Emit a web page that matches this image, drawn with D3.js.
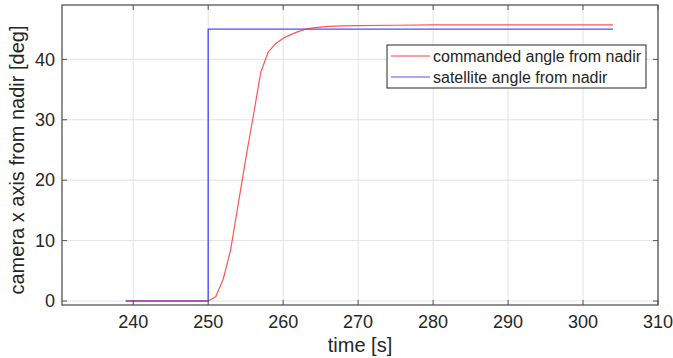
<!DOCTYPE html>
<html>
<head>
<meta charset="utf-8">
<script src="https://cdn.jsdelivr.net/npm/d3@7"></script>
<style>
    body { margin: 0; background: #fff; }
    svg text { font-family: "Liberation Sans", Arial, Helvetica, sans-serif; fill: #262626; }
</style>
</head>
<body>
<div id="chart"></div>
<script>
// data
var cmd_time = [239, 250, 251, 252, 253, 254, 255, 256, 257, 258, 259, 260, 261, 262, 263, 264, 265, 266, 268, 270, 275, 280, 304];
var cmd_angle = [0, 0, 0.7, 3.6, 8.5, 16, 23.5, 30.5, 37.8, 41.2, 42.6, 43.5, 44.1, 44.6, 45.0, 45.2, 45.35, 45.45, 45.55, 45.6, 45.65, 45.7, 45.7];
var sat_time = [239, 250, 250, 304];
var sat_angle = [0, 0, 45, 45];
var x_ticks = [240, 250, 260, 270, 280, 290, 300, 310];
var y_ticks = [0, 10, 20, 30, 40];
var series_names = ["commanded angle from nadir", "satellite angle from nadir"];

// set the dimensions and margins of the graph
var margin = { top: 5, right: 15, bottom: 53, left: 62 },
    width = 673 - margin.left - margin.right,
    height = 358 - margin.top - margin.bottom;

var svg = d3.select("#chart")
    .append("svg")
    .attr("width", 673)
    .attr("height", 358)
    .append("g")
    .attr("transform", "translate(" + margin.left + "," + margin.top + ")");

var x = d3.scaleLinear().domain([230.5, 310]).range([0, width]);
var y = d3.scaleLinear().domain([-0.66, 49]).range([height, 0]);

// grid
svg.selectAll(".gx").data(x_ticks).enter().append("line")
    .attr("x1", function (d) { return x(d); }).attr("x2", function (d) { return x(d); })
    .attr("y1", 0).attr("y2", height)
    .style("stroke", "#e3e3e3").style("stroke-width", 1);
svg.selectAll(".gy").data(y_ticks).enter().append("line")
    .attr("x1", 0).attr("x2", width)
    .attr("y1", function (d) { return y(d); }).attr("y2", function (d) { return y(d); })
    .style("stroke", "#e3e3e3").style("stroke-width", 1);

// lines
var line = d3.line()
    .x(function (d) { return x(d[0]); })
    .y(function (d) { return y(d[1]); });

svg.append("path")
    .datum(d3.zip(sat_time, sat_angle))
    .attr("d", line)
    .style("fill", "none").style("stroke", "#4d4dff").style("stroke-width", 1.4);

svg.append("path")
    .datum(d3.zip(cmd_time, cmd_angle))
    .attr("d", line)
    .style("fill", "none").style("stroke", "#ff2a2a").style("stroke-width", 1.2).style("opacity", 0.8);

// box and ticks (matlab style, ticks inside on every side)
svg.append("rect")
    .attr("x", 0).attr("y", 0).attr("width", width).attr("height", height)
    .style("fill", "none").style("stroke", "#555").style("stroke-width", 1.3);

var tick_len = 5;
x_ticks.forEach(function (t) {
    svg.append("line").attr("x1", x(t)).attr("x2", x(t)).attr("y1", height).attr("y2", height - tick_len)
        .style("stroke", "#555");
    svg.append("line").attr("x1", x(t)).attr("x2", x(t)).attr("y1", 0).attr("y2", tick_len)
        .style("stroke", "#555");
    svg.append("text").attr("x", x(t)).attr("y", height + 23)
        .attr("text-anchor", "middle").style("font-size", "18px").text(t);
});
y_ticks.forEach(function (t) {
    svg.append("line").attr("x1", 0).attr("x2", tick_len).attr("y1", y(t)).attr("y2", y(t))
        .style("stroke", "#555");
    svg.append("line").attr("x1", width).attr("x2", width - tick_len).attr("y1", y(t)).attr("y2", y(t))
        .style("stroke", "#555");
    svg.append("text").attr("x", -7).attr("y", y(t)).attr("dy", "0.35em")
        .attr("text-anchor", "end").style("font-size", "18px").text(t);
});

// axis labels
svg.append("text")
    .attr("x", width / 2).attr("y", height + 47)
    .attr("text-anchor", "middle").style("font-size", "20px").text("time [s]");
svg.append("text")
    .attr("transform", "translate(-38," + (height / 2 + 5) + ") rotate(-90)")
    .attr("text-anchor", "middle").style("font-size", "20px").text("camera x axis from nadir [deg]");

// legend
var lg = svg.append("g").attr("transform", "translate(" + (387 - margin.left) + "," + (45 - margin.top) + ")");
lg.append("rect").attr("width", 259).attr("height", 43)
    .style("fill", "#fff").style("stroke", "#262626").style("stroke-width", 1);
var colors = ["#ff4040", "#5050ff"];
for (var i = 0; i < series_names.length; i++) {
    lg.append("line").attr("x1", 4).attr("x2", 43).attr("y1", 11 + i * 21).attr("y2", 11 + i * 21)
        .style("stroke", colors[i]).style("stroke-width", 1.2);
    lg.append("text").attr("x", 46).attr("y", 11 + i * 21).attr("dy", "0.35em")
        .style("font-size", "16px").text(series_names[i]);
}
</script>
</body>
</html>
